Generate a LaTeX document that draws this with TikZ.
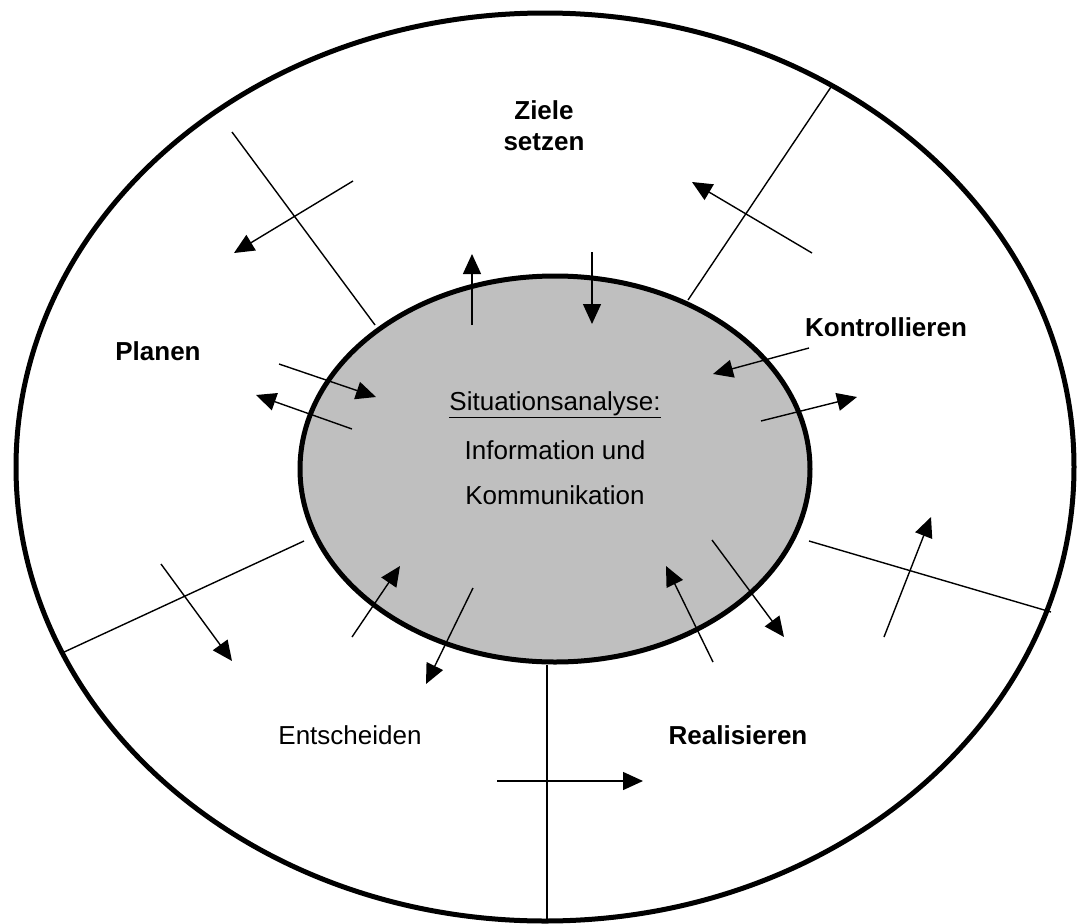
\documentclass[tikz,border=0pt]{standalone}
\usepackage{fontspec}
\setmainfont{Liberation Sans}
\usetikzlibrary{arrows.meta}
\begin{document}
\begin{tikzpicture}[x=1pt,y=-1pt,
  ring/.style={line width=5pt},
  core/.style={line width=5pt, fill=black!25},
  divider/.style={line width=1.4pt},
  flow/.style={line width=1.4pt, -{Triangle[length=20pt,width=18pt]}},
  phase/.style={font=\fontsize{26}{30}\selectfont\bfseries, inner sep=0pt},
  plain/.style={font=\fontsize{26}{30}\selectfont, inner sep=0pt}]
\useasboundingbox (0,0) rectangle (1080,924);

% outer ring and central core
\draw[ring] (545,467) ellipse [x radius=529, y radius=454];
\draw[core] (555,469) ellipse [x radius=255, y radius=193];

% dividers between the phases
\draw[divider] (232,132) -- (375,325);
\draw[divider] (831,87) -- (688,300);
\draw[divider] (62,653) -- (304,541);
\draw[divider] (809,541) -- (1051,612);
\draw[divider] (547,665) -- (547,921);

% flow arrows
\foreach \ax/\ay/\bx/\by in {
   353/181/234/253,
   812/253/692/182,
   472/325/472/254,
   592/252/592/324,
   809/348/713/374,
   761/421/857/397,
   279/364/376/397,
   352/429/256/395,
   161/564/232/661,
   352/637/400/566,
   473/588/426/684,
   713/662/666/566,
   712/540/784/637,
   884/637/931/517,
   497/781/643/781}
  \draw[flow] (\ax,\ay) -- (\bx,\by);

% labels
\node[phase] (ziele) at (544,110) {Ziele};
\node[phase] (setzen) at (544,142) {setzen};
\node[phase] (kontrollieren) at (886,327) {Kontrollieren};
\node[phase] (planen) at (158,351) {Planen};
\node[plain] (entscheiden) at (350,735) {Entscheiden};
\node[phase] (realisieren) at (738,735) {Realisieren};
\node[plain] (situation) at (555,405) {\underline{Situationsanalyse:}};
\node[plain] (information) at (555,450) {Information und};
\node[plain] (kommunikation) at (555,495) {Kommunikation};
\end{tikzpicture}
\end{document}
